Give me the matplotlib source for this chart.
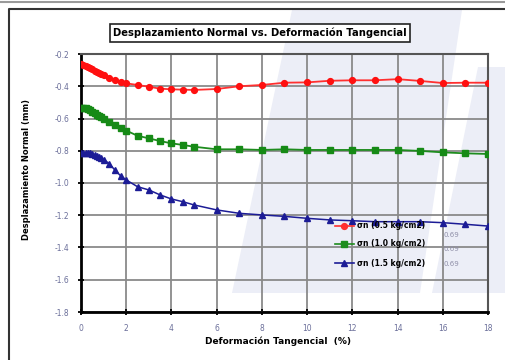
import matplotlib
matplotlib.use('Agg')
import matplotlib.pyplot as plt
from matplotlib.patches import Polygon
from matplotlib.lines import Line2D

# deformacion tangencial (%)
defo = [0, 0.1, 0.2, 0.3, 0.4, 0.5, 0.6, 0.7, 0.8, 0.9, 1.0, 1.25, 1.5, 1.75,
        2.0, 2.5, 3.0, 3.5, 4.0, 4.5, 5.0, 6, 7, 8, 9, 10, 11, 12, 13, 14, 15, 16, 17, 18]

# desplazamiento normal (mm)
despRojo = [-0.265, -0.267, -0.272, -0.280, -0.287, -0.295, -0.303, -0.310, -0.318, -0.325,
            -0.332, -0.347, -0.360, -0.372, -0.382, -0.392, -0.403, -0.415, -0.419, -0.421,
            -0.423, -0.417, -0.400, -0.392, -0.378, -0.376, -0.366, -0.363, -0.363, -0.356,
            -0.367, -0.380, -0.378, -0.378]
despVerde = [-0.535, -0.535, -0.537, -0.540, -0.550, -0.560, -0.568, -0.577, -0.585, -0.593,
             -0.600, -0.620, -0.640, -0.658, -0.675, -0.707, -0.723, -0.740, -0.754, -0.764,
             -0.775, -0.791, -0.791, -0.795, -0.791, -0.795, -0.795, -0.795, -0.795, -0.795,
             -0.801, -0.810, -0.816, -0.820]
despAzul = [-0.812, -0.812, -0.812, -0.812, -0.815, -0.820, -0.827, -0.833, -0.840, -0.847,
            -0.855, -0.880, -0.920, -0.955, -0.981, -1.023, -1.043, -1.074, -1.099, -1.116,
            -1.136, -1.167, -1.188, -1.198, -1.207, -1.219, -1.229, -1.234, -1.240, -1.240,
            -1.240, -1.246, -1.256, -1.267]

nombres = ['σn (0.5 kg/cm2)', 'σn (1.0 kg/cm2)', 'σn (1.5 kg/cm2)']
extra = ['0.69', '0.69', '0.69']
xTicks = [0, 2, 4, 6, 8, 10, 12, 14, 16, 18]
yTicks = [-0.2, -0.4, -0.6, -0.8, -1.0, -1.2, -1.4, -1.6, -1.8]

W, H = 506, 360
def fp(x, y):
  return (x / W, 1 - y / H)

fig = plt.figure(figsize=(5.06, 3.6), dpi=100)

# marca de agua de fondo (en un eje de fondo)
bg = fig.add_axes([0, 0, 1, 1], zorder=-5)
bg.set_xlim(0, 1)
bg.set_ylim(0, 1)
bg.axis('off')
fondo = '#eceef7'
bg.add_patch(Polygon([fp(292, 10), fp(462, 10), fp(420, 293), fp(232, 293)],
                     closed=True, facecolor=fondo, edgecolor='none'))
bg.add_patch(Polygon([fp(478, 67), fp(506, 67), fp(506, 293), fp(432, 293)],
                     closed=True, facecolor=fondo, edgecolor='none'))
# marco de la pagina
bg.add_line(Line2D([0, 1], [1 - 1.5 / H] * 2, color='#9a9a9a', lw=1.5))
bg.add_line(Line2D([9 / W, 9 / W, 1], [0, 1 - 9 / H, 1 - 9 / H], color='#333333', lw=1.5))

ax = fig.add_axes([81 / W, 1 - 312 / H, (488 - 81) / W, (312 - 54) / H], zorder=1)
ax.patch.set_alpha(0)

ax.plot(defo, despRojo, color='#ff3030', lw=1.3, marker='o', ms=4.2, mfc='#ff1010', mec='#ff1010', zorder=4)
ax.plot(defo, despVerde, color='#1e8c1e', lw=1.3, marker='s', ms=4.2, mfc='#168a16', mec='#168a16', zorder=4)
ax.plot(defo, despAzul, color='#1c1c96', lw=1.1, marker='^', ms=4.0, mfc='#1c1c96', mec='#1c1c96', zorder=4)

ax.set_xlim(0, 18)
ax.set_ylim(-1.8, -0.2)
ax.set_xticks(xTicks)
ax.set_yticks(yTicks)
ax.set_xticklabels([str(t) for t in xTicks])
ax.set_yticklabels([f'{t:.1f}' for t in yTicks])
ax.grid(True, color='#8a8a8a', lw=1.3, zorder=1)
ax.set_axisbelow(True)
ax.tick_params(direction='inout', length=5, width=1.3, color='black', labelsize=5.5,
               labelcolor='#6b6f9a', pad=6)
for s in ['left', 'bottom']:
  ax.spines[s].set_linewidth(2)
  ax.spines[s].set_color('black')
for s in ['top', 'right']:
  ax.spines[s].set_linewidth(1.5)
  ax.spines[s].set_color('#555555')

fig.text(260 / W, 1 - 33 / H, 'Desplazamiento Normal vs. Deformación Tangencial',
         ha='center', va='center', fontsize=7.2, fontweight='bold',
         bbox=dict(boxstyle='square,pad=0.35', facecolor='white', edgecolor='#222222', lw=1.2))
fig.text(27 / W, 1 - 170 / H, 'Desplazamiento Normal (mm)', rotation=90,
         ha='center', va='center', fontsize=6, fontweight='bold')
fig.text(278 / W, 1 - 341 / H, 'Deformación Tangencial  (%)', ha='center', va='center',
         fontsize=6.5, fontweight='bold')

# leyenda
estilos = [('#ff3030', 'o', 4.2), ('#1e8c1e', 's', 4.2), ('#1c1c96', '^', 4.0)]
yLeg = [226, 244, 263]
yExtra = [235, 249, 264]
for (c, m, ms), nom, ex, yl, ye in zip(estilos, nombres, extra, yLeg, yExtra):
  fig.add_artist(Line2D([335 / W, 354 / W], [1 - yl / H] * 2, transform=fig.transFigure,
                        color=c, lw=1.2, zorder=5))
  fig.add_artist(Line2D([344.5 / W], [1 - yl / H], transform=fig.transFigure,
                        color=c, marker=m, ms=ms, lw=0, zorder=5))
  fig.text(357 / W, 1 - yl / H, nom, ha='left', va='center', fontsize=5.5, fontweight='bold', zorder=5)
  fig.text(444 / W, 1 - ye / H, ex, ha='left', va='center', fontsize=5, color='#8f8fa8', zorder=5)

fig.savefig('out.png', dpi=100)
